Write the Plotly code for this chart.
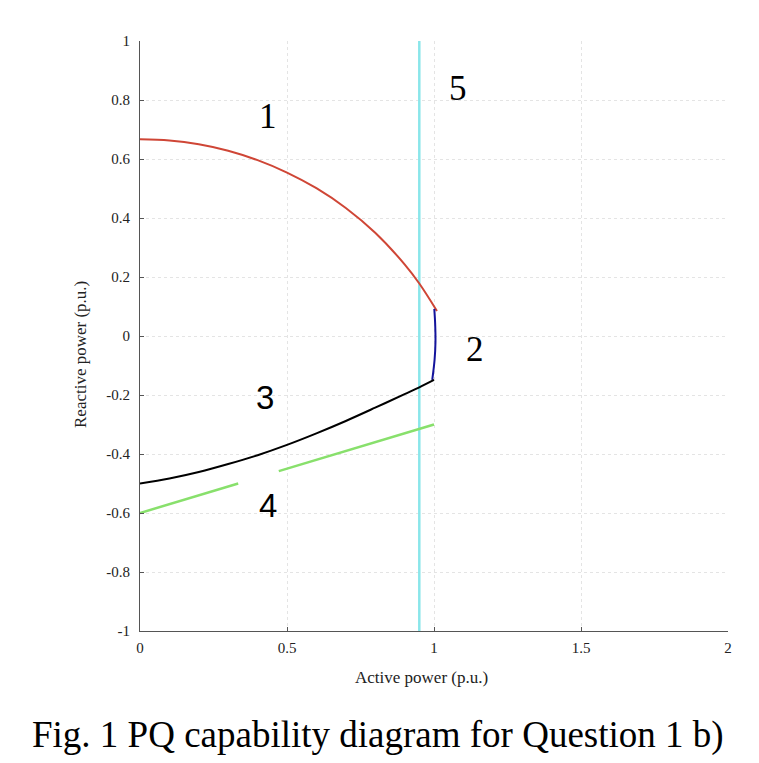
#!/usr/bin/env python3
"""
PQ capability diagram (Question 1 b) redrawn with Plotly.
"""

import plotly.graph_objects as go

# ---------------- data ----------------
# 1: field current limit
field_p = [0, 0.1, 0.2, 0.3, 0.4, 0.5, 0.6, 0.7, 0.8, 0.9, 0.95, 1.01]
field_q = [0.667, 0.663, 0.650, 0.628, 0.596, 0.554, 0.501, 0.434, 0.350, 0.243, 0.178, 0.085]

# 2: armature current limit
arm_p = [1.001, 1.004, 1.005, 1.002, 0.994]
arm_q = [0.092, 0.040, -0.020, -0.080, -0.149]

# 3: stability limit
stab_p = [0, 0.1, 0.2, 0.3, 0.4, 0.5, 0.6, 0.7, 0.8, 0.9, 0.95, 1.0]
stab_q = [-0.500, -0.483, -0.461, -0.434, -0.404, -0.369, -0.330, -0.288, -0.243, -0.197, -0.174, -0.149]

# 4: minimum excitation line (broken where the label sits)
minex_p = [0, 0.334, None, 0.472, 1.0]
minex_q = [-0.600, -0.500, None, -0.458, -0.300]

# 5: prime mover limit
prime_p = [0.95, 0.95]
prime_q = [-1, 1]

region_labels = ['1', '2', '3', '4', '5']
label_p = [0.435, 1.14, 0.425, 0.435, 1.082]
label_q = [0.745, -0.047, -0.21, -0.576, 0.84]

x_ticks = [0, 0.5, 1, 1.5, 2]
x_ticktext = ['0', '0.5', '1', '1.5', '2']
y_ticks = [-1, -0.8, -0.6, -0.4, -0.2, 0, 0.2, 0.4, 0.6, 0.8, 1]
y_ticktext = ['-1', '-0.8', '-0.6', '-0.4', '-0.2', '0', '0.2', '0.4', '0.6', '0.8', '1']

SERIF = 'Liberation Serif, Times New Roman, serif'
SANS = 'Liberation Sans, Arial, sans-serif'

# ---------------- figure ----------------
# page has an 8px body margin, so the figure is shrunk and shifted by that
OFF = 8
W, H = 759 - 2 * OFF, 763 - 2 * OFF
L = 140 - OFF
T = 41 - OFF
R = W - (728 - OFF)
B = H - (631 - OFF)

fig = go.Figure()
fig.add_trace(go.Scatter(x=prime_p, y=prime_q, mode='lines',
                         line=dict(color='#8ae6ea', width=2.5)))
fig.add_trace(go.Scatter(x=field_p, y=field_q, mode='lines', line_shape='spline',
                         line=dict(color='#cf4636', width=2)))
fig.add_trace(go.Scatter(x=arm_p, y=arm_q, mode='lines', line_shape='spline',
                         line=dict(color='#14149c', width=2)))
fig.add_trace(go.Scatter(x=stab_p, y=stab_q, mode='lines', line_shape='spline',
                         line=dict(color='black', width=2)))
fig.add_trace(go.Scatter(x=minex_p, y=minex_q, mode='lines', connectgaps=False,
                         line=dict(color='#88e06c', width=2.5)))

# region numbers: 3 and 4 are in a sans face in the original
for txt, p, q in zip(region_labels, label_p, label_q):
    sans = txt in ('3', '4')
    fig.add_annotation(x=p, y=q, text=txt, showarrow=False,
                       xanchor='center', yanchor='middle',
                       font=dict(family=SANS if sans else SERIF,
                                 size=33 if sans else 35, color='black'))


def px_x(px):
    # page pixel -> paper x
    return (px - OFF - L) / (W - L - R)


def px_y(py):
    # page pixel -> paper y
    return (H - B - (py - OFF)) / (H - T - B)


# axis titles and caption placed in paper coords
text_items = [
    ('Active power (p.u.)', 421, 677, 17, 0, '#222'),
    ('Reactive power (p.u.)', 80, 355, 17, -90, '#222'),
    ('Fig. 1 PQ capability diagram for Question 1 b)', 378, 735, 37, 0, 'black'),
]
for txt, px, py, size, angle, col in text_items:
    fig.add_annotation(xref='paper', yref='paper', x=px_x(px), y=px_y(py),
                       text=txt, showarrow=False, textangle=angle,
                       xanchor='center', yanchor='middle',
                       font=dict(family=SERIF, size=size, color=col))

axis_common = dict(
    showgrid=True, gridcolor='#e4e4e4', griddash='dot', gridwidth=1,
    zeroline=False, showline=True, linecolor='#555', linewidth=1,
    ticks='inside', ticklen=4, tickcolor='#555', tickwidth=1,
    tickfont=dict(family=SERIF, size=15, color='#222'),
)

fig.update_layout(
    width=W, height=H,
    margin=dict(l=L, r=R, t=T, b=B),
    plot_bgcolor='white', paper_bgcolor='white',
    showlegend=False,
    xaxis=dict(range=[0, 2], tickvals=x_ticks, ticktext=x_ticktext,
               ticklabelstandoff=3, **axis_common),
    yaxis=dict(range=[-1, 1], tickvals=y_ticks, ticktext=y_ticktext,
               ticklabelstandoff=6, **axis_common),
)

fig.write_html("out.html")
